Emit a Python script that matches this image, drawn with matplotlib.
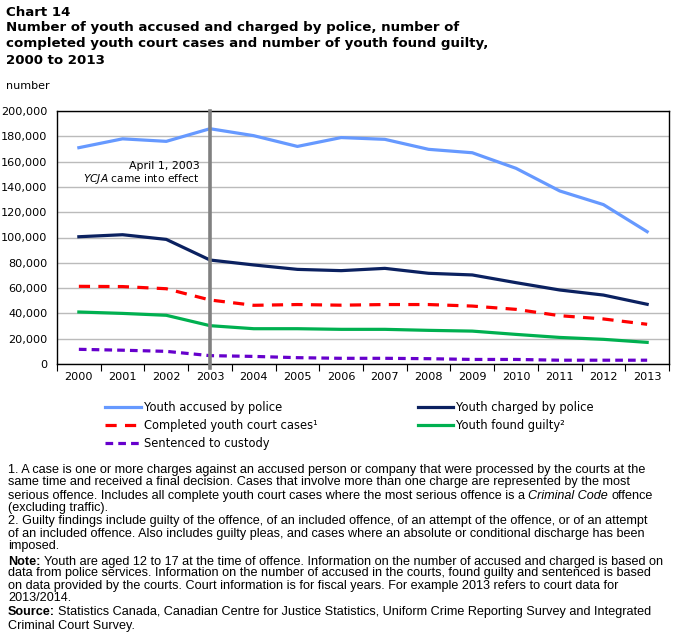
import matplotlib
matplotlib.use("Agg")
from matplotlib import pyplot as plt
from matplotlib.ticker import FuncFormatter, FixedLocator
import numpy as np

years = [str(y) for y in range(2000, 2014)]

accused = [171000, 178000, 176000, 186000, 180500, 172000, 179000,
           177600, 169700, 167000, 154700, 136800, 126000, 104600]
charged = [100600, 102200, 98500, 82200, 78300, 74800, 73800,
           75600, 71700, 70400, 64300, 58500, 54500, 47200]
completed = [61400, 61200, 59500, 50600, 46400, 47000, 46500,
             47000, 47000, 45800, 43200, 38200, 35600, 31400]
guilty = [41100, 40000, 38500, 30300, 27900, 27900, 27400,
          27400, 26600, 26000, 23400, 21000, 19500, 17100]
custody = [11600, 10900, 10000, 6600, 6000, 5000, 4500,
           4500, 4200, 3600, 3600, 3000, 3000, 3000]

W, H = 678, 635
fig = plt.figure(figsize=(W / 100, H / 100), dpi=100)


def fx(px):
    return px / W


def fy(py):
    return 1 - py / H


ax = fig.add_axes([fx(57), fy(364), fx(669) - fx(57), fy(111) - fy(364)])
x = np.arange(len(years))

lw = 2.3
l1, = ax.plot(x, accused, color="#6699FF", lw=lw, label="Youth accused by police")
l2, = ax.plot(x, charged, color="#0B2160", lw=lw, label="Youth charged by police")
l3, = ax.plot(x, completed, color="#FF0000", lw=lw, ls=(0, (3.5, 2.6)),
              label="Completed youth court cases\u00b9")
l4, = ax.plot(x, guilty, color="#00B050", lw=lw, label="Youth found guilty\u00b2")
l5, = ax.plot(x, custody, color="#6600CC", lw=lw, ls=(0, (2.4, 1.6)),
              label="Sentenced to custody")

# YCJA marker
ax.axvline(3, color="#808080", lw=2.6, ymin=-0.015, clip_on=False, zorder=5)
ax.text(2.76, 156500, "April 1, 2003", ha="right", va="center", fontsize=7.9)
ax.text(2.76, 146500, r"$\it{YCJA}$ came into effect", ha="right", va="center",
        fontsize=7.7)

ax.set_xlim(-0.5, len(years) - 0.5)
ax.set_ylim(0, 200000)
ax.set_yticks(np.arange(0, 200001, 20000))
ax.yaxis.set_major_formatter(FuncFormatter(lambda v, p: f"{int(v):,}"))
ax.set_xticks(x)
ax.set_xticklabels(years)
ax.xaxis.set_minor_locator(FixedLocator(np.arange(-0.5, len(years), 1)))
ax.tick_params(axis="x", which="major", length=0, pad=6, labelsize=8.1)
ax.tick_params(axis="x", which="minor", length=5, direction="out", width=0.8)
ax.tick_params(axis="y", length=0, pad=7, labelsize=8.1)
ax.grid(axis="y", color="#BBBBBB", lw=1)
ax.set_axisbelow(True)
for s in ax.spines.values():
    s.set_color("black")
    s.set_linewidth(1)

# legend (row-major ordering like the original)
fig.legend(handles=[l1, l3, l5, l2, l4], ncol=2, loc="upper left",
           bbox_to_anchor=(fx(105), fy(401)), frameon=False, fontsize=8.3,
           handlelength=3.1, handletextpad=0.25, columnspacing=8.7,
           labelspacing=0.45, borderaxespad=0, borderpad=0)

# titles
fig.text(fx(6), fy(12), "Chart 14", fontsize=9.6, fontweight="bold", va="center")
title = ["Number of youth accused and charged by police, number of",
         "completed youth court cases and number of youth found guilty,",
         "2000 to 2013"]
for i, line in enumerate(title):
    fig.text(fx(6), fy(28 + 16 * i), line, fontsize=9.6, fontweight="bold", va="center")
fig.text(fx(6), fy(86), "number", fontsize=8, va="center")

# footnotes drawn as runs of styled text
fig.canvas.draw()
rend = fig.canvas.get_renderer()
FN = dict(fontsize=9.1, family="Liberation Sans", va="center")


def width(s, **kw):
    t = fig.text(0, 0, s, **kw)
    w = t.get_window_extent(rend).width
    t.remove()
    return w


space = width("x x", **FN) - width("xx", **FN)


def runs(px, py, parts):
    for s, style in parts:
        kw = dict(FN)
        if style == "b":
            kw["fontweight"] = "bold"
        elif style == "i":
            kw["fontstyle"] = "italic"
        body = s.strip(" ")
        lead = len(s) - len(s.lstrip(" "))
        trail = len(s) - len(s.rstrip(" "))
        px += lead * space
        t = fig.text(fx(px), fy(py), body, **kw)
        px += t.get_window_extent(rend).width + trail * space


notes = [
    [("1. A case is one or more charges against an accused person or company that were processed by the courts at the", "")],
    [("same time and received a final decision. Cases that involve more than one charge are represented by the most", "")],
    [("serious offence. Includes all complete youth court cases where the most serious offence is a ", ""),
     ("Criminal Code", "i"), (" offence", "")],
    [("(excluding traffic).", "")],
    [("2. Guilty findings include guilty of the offence, of an included offence, of an attempt of the offence, or of an attempt", "")],
    [("of an included offence. Also includes guilty pleas, and cases where an absolute or conditional discharge has been", "")],
    [("imposed.", "")],
    [("Note:", "b"), (" Youth are aged 12 to 17 at the time of offence. Information on the number of accused and charged is based on", "")],
    [("data from police services. Information on the number of accused in the courts, found guilty and sentenced is based", "")],
    [("on data provided by the courts. Court information is for fiscal years. For example 2013 refers to court data for", "")],
    [("2013/2014.", "")],
    [("Source:", "b"), (" Statistics Canada, Canadian Centre for Justice Statistics, Uniform Crime Reporting Survey and Integrated", "")],
    [("Criminal Court Survey.", "")],
]
rows_y = [470, 482, 496, 508, 521, 534, 546, 562, 573, 586, 598, 612, 626]
for parts, py in zip(notes, rows_y):
    runs(8, py, parts)

fig.savefig("out.png", dpi=100)
